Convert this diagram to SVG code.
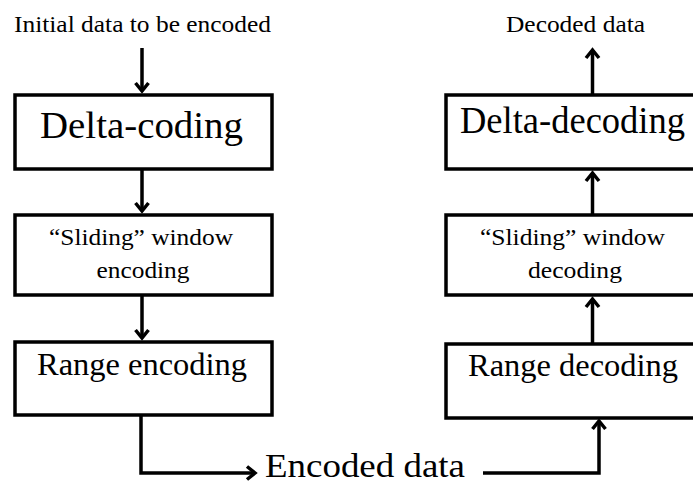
<svg xmlns="http://www.w3.org/2000/svg" width="693" height="484" viewBox="0 0 693 484">
<style>
  .box { fill: #ffffff; stroke: #000000; stroke-width: 3.5; }
  text { font-family: 'Liberation Serif', 'Times New Roman', Times, serif; fill: #000000; }
  .big { font-size: 38px; }
  .mid { font-size: 32px; }
  .sm { font-size: 24px; }
  .lbl { font-size: 33px; }
  .wire { fill: none; stroke: #000000; stroke-width: 3.5; stroke-linejoin: miter; }
</style>
<defs>
  <marker id="arr" markerUnits="userSpaceOnUse" markerWidth="20" markerHeight="20" refX="0" refY="0" viewBox="-12 -10 16 20" orient="auto" overflow="visible">
    <path d="M-8,-6.5 L0,0 L-8,6.5" fill="none" stroke="#000" stroke-width="3.5" stroke-linejoin="miter"/>
  </marker>
</defs>
<rect width="693" height="484" fill="#ffffff"/>

<g id="connectors">
  <line class="wire" x1="142" y1="48" x2="142" y2="91" marker-end="url(#arr)"/>
  <line class="wire" x1="142" y1="169" x2="142" y2="211" marker-end="url(#arr)"/>
  <line class="wire" x1="142" y1="295" x2="142" y2="338" marker-end="url(#arr)"/>
  <polyline class="wire" points="141,415 141,473 255,473" marker-end="url(#arr)"/>
  <polyline class="wire" points="483,473 599,473 599,421" marker-end="url(#arr)"/>
  <line class="wire" x1="592.5" y1="344" x2="592.5" y2="299" marker-end="url(#arr)"/>
  <line class="wire" x1="592.5" y1="215" x2="592.5" y2="173" marker-end="url(#arr)"/>
  <line class="wire" x1="592.5" y1="94" x2="592.5" y2="50" marker-end="url(#arr)"/>
</g>

<g id="input">
  <text class="sm" x="142.5" y="32" text-anchor="middle" textLength="257" lengthAdjust="spacingAndGlyphs">Initial data to be encoded</text>
</g>

<g id="delta-coding">
  <rect class="box" x="15" y="95" width="257" height="74"/>
  <text class="big" x="141.5" y="138" text-anchor="middle" textLength="203" lengthAdjust="spacingAndGlyphs">Delta-coding</text>
</g>

<g id="sliding-encoding">
  <rect class="box" x="15" y="215" width="257" height="80"/>
  <text class="sm" x="141" y="245" text-anchor="middle" textLength="184" lengthAdjust="spacingAndGlyphs">“Sliding” window</text>
  <text class="sm" x="143" y="278" text-anchor="middle" textLength="93" lengthAdjust="spacingAndGlyphs">encoding</text>
</g>

<g id="range-encoding">
  <rect class="box" x="15" y="342" width="257" height="73"/>
  <text class="mid" x="142" y="375" text-anchor="middle" textLength="210" lengthAdjust="spacingAndGlyphs">Range encoding</text>
</g>

<g id="encoded-data">
  <text class="lbl" x="265" y="476.5" textLength="200" lengthAdjust="spacingAndGlyphs">Encoded data</text>
</g>

<g id="range-decoding">
  <rect class="box" x="446" y="344" width="260" height="74"/>
  <text class="mid" x="468" y="376" textLength="210" lengthAdjust="spacingAndGlyphs">Range decoding</text>
</g>

<g id="sliding-decoding">
  <rect class="box" x="446" y="215" width="260" height="80"/>
  <text class="sm" x="480" y="245" textLength="185" lengthAdjust="spacingAndGlyphs">“Sliding” window</text>
  <text class="sm" x="528" y="278" textLength="94" lengthAdjust="spacingAndGlyphs">decoding</text>
</g>

<g id="delta-decoding">
  <rect class="box" x="446" y="95" width="260" height="74"/>
  <text class="big" x="460" y="133" textLength="225" lengthAdjust="spacingAndGlyphs">Delta-decoding</text>
</g>

<g id="output">
  <text class="sm" x="506" y="32" textLength="139" lengthAdjust="spacingAndGlyphs">Decoded data</text>
</g>
</svg>
